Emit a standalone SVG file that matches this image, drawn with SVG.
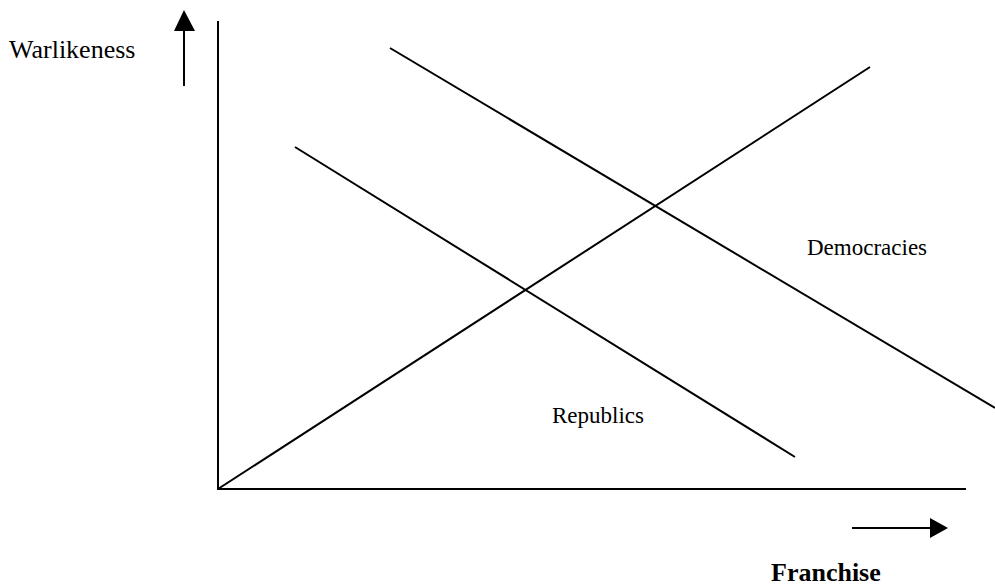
<svg xmlns="http://www.w3.org/2000/svg" width="995" height="588" viewBox="0 0 995 588">
<style>
.ln{stroke:#000;stroke-width:2;fill:none}
.t{font-family:"Liberation Serif","Times New Roman",serif;font-size:23px;fill:#000}
.b{font-weight:bold;font-size:26px}
</style>
<rect width="995" height="588" fill="#fff"/>
<g id="connectors">
<line class="ln" x1="218" y1="21" x2="218" y2="490"/>
<line class="ln" x1="217" y1="489" x2="966" y2="489"/>
<line class="ln" x1="184" y1="86" x2="184" y2="28"/>
<polygon points="184,10 174,31 195,31" fill="#000"/>
<line class="ln" x1="852" y1="528" x2="932" y2="528"/>
<polygon points="948,528 930,518 930,538" fill="#000"/>
<line class="ln" x1="218" y1="489" x2="870" y2="67"/>
<line class="ln" x1="390" y1="48" x2="995" y2="408"/>
<line class="ln" x1="295" y1="147" x2="795" y2="457"/>
</g>
<g id="warlikeness"><text class="t" x="9" y="58" style="font-size:26px">Warlikeness</text></g>
<g id="democracies"><text class="t" x="807" y="255">Democracies</text></g>
<g id="republics"><text class="t" x="552" y="423">Republics</text></g>
<g id="franchise"><text class="t b" x="771" y="581">Franchise</text></g>
</svg>
